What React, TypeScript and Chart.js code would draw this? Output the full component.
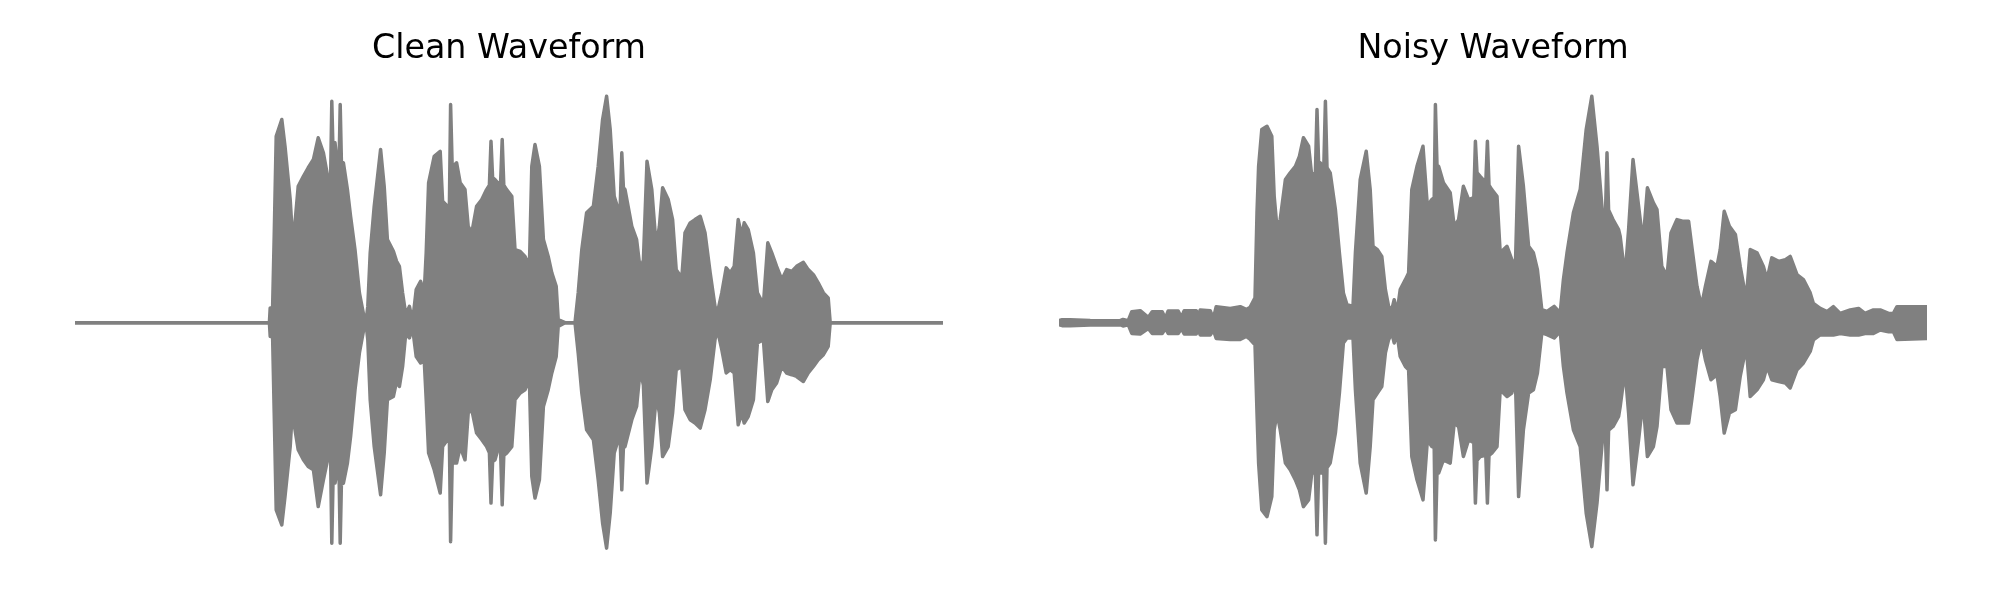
import React, { useEffect, useRef } from "react";
import { Chart, registerables } from "chart.js";

Chart.register(...registerables);

// ---- Data (time in seconds, amplitude envelope) ----
const DURATION = 2.17;
const Y_LIMIT = 0.97;
const panelTitles = ["Clean Waveform", "Noisy Waveform"];

const cleanTime = [
  0.0, 0.486, 0.488, 0.494, 0.498, 0.503, 0.517, 0.525, 0.538, 0.543, 0.55, 0.558, 0.571, 0.583, 0.596,
  0.608, 0.621, 0.633, 0.639, 0.642, 0.645, 0.65, 0.656, 0.66, 0.663, 0.666, 0.671, 0.681, 0.689, 0.7,
  0.711, 0.723, 0.728, 0.732, 0.738, 0.748, 0.764, 0.773, 0.781, 0.796, 0.804, 0.811, 0.819, 0.827, 0.836,
  0.844, 0.853, 0.864, 0.873, 0.878, 0.884, 0.898, 0.913, 0.919, 0.931, 0.936, 0.939, 0.943, 0.954, 0.963,
  0.975, 0.983, 0.992, 1.004, 1.017, 1.029, 1.036, 1.04, 1.044, 1.05, 1.057, 1.064, 1.068, 1.072, 1.079,
  1.092, 1.1, 1.113, 1.125, 1.136, 1.142, 1.15, 1.161, 1.171, 1.183, 1.192, 1.203, 1.208, 1.225, 1.25,
  1.258, 1.267, 1.279, 1.296, 1.308, 1.319, 1.329, 1.338, 1.348, 1.358, 1.363, 1.367, 1.371, 1.375, 1.392,
  1.404, 1.413, 1.421, 1.43, 1.442, 1.453, 1.461, 1.469, 1.483, 1.494, 1.503, 1.517, 1.525, 1.538, 1.55,
  1.563, 1.575, 1.588, 1.6, 1.606, 1.617, 1.628, 1.638, 1.648, 1.658, 1.667, 1.673, 1.683, 1.696, 1.706,
  1.721, 1.732, 1.742, 1.754, 1.767, 1.779, 1.792, 1.804, 1.821, 1.833, 1.846, 1.858, 1.871, 1.883, 1.888,
  2.17,
];
const cleanUpper = [
  0, 0, 0.059, 0.059, 0.345, 0.745, 0.812, 0.705, 0.492, 0.359, 0.399, 0.545, 0.585, 0.619, 0.652,
  0.739, 0.679, 0.572, 0.575, 0.885, 0.69, 0.719, 0.625, 0.62, 0.872, 0.645, 0.639, 0.532, 0.425, 0.292,
  0.119, 0.019, 0.01, 0.065, 0.279, 0.465, 0.692, 0.545, 0.332, 0.285, 0.245, 0.225, 0.119, 0.032, 0.065,
  0.005, 0.132, 0.165, 0.119, 0.279, 0.559, 0.665, 0.685, 0.485, 0.465, 0.47, 0.872, 0.62, 0.639, 0.559,
  0.532, 0.385, 0.359, 0.465, 0.492, 0.532, 0.55, 0.725, 0.58, 0.572, 0.559, 0.56, 0.732, 0.55, 0.532,
  0.505, 0.292, 0.285, 0.265, 0.225, 0.625, 0.712, 0.625, 0.332, 0.265, 0.199, 0.145, 0.012, 0, 0,
  0.119, 0.292, 0.439, 0.465, 0.625, 0.812, 0.905, 0.772, 0.505, 0.452, 0.46, 0.679, 0.54, 0.532, 0.385,
  0.332, 0.212, 0.25, 0.645, 0.532, 0.305, 0.385, 0.539, 0.492, 0.412, 0.212, 0.179, 0.359, 0.399, 0.412,
  0.425, 0.359, 0.199, 0.065, 0.039, 0.119, 0.219, 0.199, 0.225, 0.412, 0.345, 0.399, 0.372, 0.279, 0.119,
  0.072, 0.319, 0.279, 0.225, 0.172, 0.212, 0.205, 0.225, 0.241, 0.212, 0.192, 0.159, 0.119, 0.099, 0,
  0,
];
const cleanLower = [
  0, 0, -0.055, -0.055, -0.36, -0.748, -0.808, -0.695, -0.495, -0.361, -0.428, -0.508, -0.548, -0.575, -0.588,
  -0.735, -0.628, -0.535, -0.54, -0.881, -0.64, -0.641, -0.588, -0.59, -0.881, -0.645, -0.641, -0.561, -0.455, -0.268,
  -0.121, -0.017, -0.01, -0.068, -0.308, -0.495, -0.688, -0.521, -0.308, -0.295, -0.235, -0.255, -0.175, -0.041, -0.061,
  -0.02, -0.135, -0.161, -0.148, -0.308, -0.521, -0.588, -0.681, -0.495, -0.468, -0.47, -0.875, -0.56, -0.561, -0.495,
  -0.548, -0.361, -0.348, -0.441, -0.468, -0.495, -0.52, -0.721, -0.555, -0.548, -0.508, -0.515, -0.728, -0.53, -0.521,
  -0.495, -0.308, -0.281, -0.268, -0.228, -0.615, -0.701, -0.628, -0.335, -0.268, -0.201, -0.135, -0.015, 0, 0,
  -0.121, -0.281, -0.428, -0.468, -0.628, -0.801, -0.901, -0.761, -0.521, -0.468, -0.47, -0.668, -0.5, -0.495, -0.388,
  -0.335, -0.188, -0.25, -0.641, -0.495, -0.295, -0.361, -0.535, -0.495, -0.361, -0.188, -0.175, -0.348, -0.388, -0.401,
  -0.421, -0.348, -0.228, -0.068, -0.028, -0.108, -0.201, -0.188, -0.201, -0.408, -0.361, -0.401, -0.375, -0.308, -0.081,
  -0.068, -0.315, -0.268, -0.241, -0.175, -0.201, -0.208, -0.215, -0.235, -0.201, -0.175, -0.148, -0.128, -0.095, 0,
  0,
];

const noisyTime = [
  0.0, 0.008, 0.028, 0.078, 0.153, 0.16, 0.173, 0.182, 0.203, 0.223, 0.233, 0.258, 0.266, 0.273, 0.298,
  0.306, 0.313, 0.343, 0.348, 0.353, 0.378, 0.386, 0.393, 0.428, 0.453, 0.468, 0.478, 0.49, 0.495, 0.499,
  0.507, 0.52, 0.532, 0.538, 0.545, 0.553, 0.566, 0.578, 0.591, 0.601, 0.611, 0.624, 0.632, 0.641, 0.645,
  0.649, 0.653, 0.662, 0.666, 0.67, 0.678, 0.691, 0.701, 0.711, 0.72, 0.735, 0.741, 0.753, 0.768, 0.778,
  0.785, 0.796, 0.807, 0.816, 0.824, 0.832, 0.838, 0.845, 0.853, 0.866, 0.874, 0.882, 0.895, 0.91, 0.921,
  0.932, 0.938, 0.941, 0.945, 0.949, 0.961, 0.978, 0.988, 0.999, 1.011, 1.024, 1.037, 1.041, 1.045, 1.053,
  1.067, 1.071, 1.075, 1.082, 1.095, 1.103, 1.12, 1.132, 1.141, 1.149, 1.161, 1.174, 1.186, 1.196, 1.207,
  1.22, 1.238, 1.253, 1.261, 1.27, 1.286, 1.303, 1.318, 1.332, 1.345, 1.36, 1.366, 1.37, 1.374, 1.385,
  1.399, 1.403, 1.415, 1.424, 1.435, 1.449, 1.46, 1.471, 1.486, 1.495, 1.507, 1.52, 1.53, 1.545, 1.561,
  1.574, 1.582, 1.595, 1.606, 1.616, 1.63, 1.645, 1.653, 1.663, 1.676, 1.691, 1.703, 1.718, 1.728, 1.745,
  1.761, 1.77, 1.782, 1.799, 1.816, 1.828, 1.845, 1.861, 1.878, 1.886, 1.903, 1.92, 1.936, 1.953, 1.978,
  1.999, 2.015, 2.036, 2.053, 2.074, 2.086, 2.095, 2.17,
];
const noisyUpper = [
  0.008, 0.012, 0.012, 0.009, 0.008, 0.013, 0.008, 0.044, 0.048, 0.021, 0.044, 0.044, 0.017, 0.047, 0.047,
  0.021, 0.048, 0.048, 0.024, 0.051, 0.048, 0.017, 0.064, 0.057, 0.064, 0.053, 0.062, 0.099, 0.439, 0.625,
  0.772, 0.785, 0.745, 0.505, 0.379, 0.412, 0.572, 0.599, 0.625, 0.665, 0.739, 0.705, 0.585, 0.6, 0.852,
  0.64, 0.639, 0.62, 0.885, 0.62, 0.599, 0.452, 0.279, 0.119, 0.072, 0.065, 0.279, 0.572, 0.685, 0.532,
  0.305, 0.292, 0.265, 0.132, 0.065, 0.052, 0.092, 0.039, 0.132, 0.172, 0.199, 0.532, 0.625, 0.705, 0.465,
  0.492, 0.5, 0.872, 0.63, 0.625, 0.559, 0.519, 0.385, 0.412, 0.545, 0.492, 0.5, 0.725, 0.6, 0.585,
  0.56, 0.725, 0.55, 0.532, 0.505, 0.279, 0.305, 0.252, 0.225, 0.705, 0.545, 0.305, 0.279, 0.212, 0.052,
  0.045, 0.065, 0.039, 0.172, 0.279, 0.439, 0.532, 0.772, 0.905, 0.705, 0.412, 0.42, 0.679, 0.45, 0.412,
  0.372, 0.345, 0.185, 0.372, 0.652, 0.465, 0.319, 0.539, 0.479, 0.452, 0.225, 0.185, 0.359, 0.412, 0.405,
  0.405, 0.305, 0.145, 0.065, 0.145, 0.245, 0.225, 0.292, 0.445, 0.385, 0.352, 0.225, 0.092, 0.292, 0.279,
  0.225, 0.172, 0.259, 0.245, 0.252, 0.265, 0.192, 0.172, 0.119, 0.077, 0.057, 0.044, 0.064, 0.037, 0.051,
  0.057, 0.037, 0.051, 0.051, 0.037, 0.037, 0.064, 0.064,
];
const noisyLower = [
  -0.008, -0.012, -0.012, -0.009, -0.008, -0.013, -0.008, -0.043, -0.045, -0.023, -0.043, -0.043, -0.023, -0.043, -0.043,
  -0.023, -0.045, -0.045, -0.027, -0.049, -0.049, -0.029, -0.063, -0.067, -0.067, -0.055, -0.067, -0.088, -0.361, -0.561,
  -0.748, -0.775, -0.695, -0.428, -0.361, -0.428, -0.561, -0.588, -0.628, -0.668, -0.735, -0.708, -0.601, -0.6, -0.848,
  -0.6, -0.601, -0.6, -0.881, -0.58, -0.561, -0.441, -0.281, -0.081, -0.061, -0.061, -0.268, -0.561, -0.681, -0.495,
  -0.308, -0.281, -0.255, -0.121, -0.068, -0.041, -0.081, -0.041, -0.135, -0.175, -0.188, -0.535, -0.628, -0.708, -0.468,
  -0.495, -0.5, -0.868, -0.6, -0.601, -0.548, -0.561, -0.401, -0.415, -0.535, -0.468, -0.48, -0.721, -0.55, -0.535,
  -0.53, -0.721, -0.53, -0.521, -0.495, -0.268, -0.295, -0.281, -0.228, -0.695, -0.428, -0.281, -0.268, -0.201, -0.041,
  -0.048, -0.061, -0.035, -0.175, -0.281, -0.428, -0.495, -0.761, -0.895, -0.721, -0.441, -0.44, -0.668, -0.43, -0.415,
  -0.375, -0.335, -0.188, -0.361, -0.648, -0.468, -0.308, -0.535, -0.495, -0.415, -0.175, -0.175, -0.348, -0.401, -0.401,
  -0.401, -0.308, -0.148, -0.068, -0.148, -0.228, -0.208, -0.295, -0.441, -0.361, -0.348, -0.215, -0.095, -0.295, -0.268,
  -0.228, -0.175, -0.228, -0.235, -0.241, -0.261, -0.188, -0.161, -0.115, -0.069, -0.049, -0.049, -0.049, -0.043, -0.049,
  -0.049, -0.043, -0.043, -0.029, -0.036, -0.036, -0.067, -0.063,
];

const WAVE_COLOR = "#808080";

type PanelProps = {
  title: string;
  time: number[];
  upper: number[];
  lower: number[];
  left: number;
};

function WaveformPanel({ title, time, upper, lower, left }: PanelProps) {
  const ref = useRef<HTMLCanvasElement | null>(null);

  useEffect(() => {
    if (!ref.current) return;
    const lineStyle = {
      borderColor: WAVE_COLOR,
      backgroundColor: WAVE_COLOR,
      borderWidth: 3.5,
      pointRadius: 0,
      pointHoverRadius: 0,
      tension: 0,
      borderJoinStyle: "round" as const,
      borderCapStyle: "round" as const,
    };
    const chart = new Chart(ref.current, {
      type: "line",
      data: {
        datasets: [
          {
            ...lineStyle,
            data: time.map((t, i) => ({ x: t, y: upper[i] })),
            fill: "+1",
          },
          {
            ...lineStyle,
            data: time.map((t, i) => ({ x: t, y: lower[i] })),
            fill: false,
          },
        ],
      },
      options: {
        responsive: false,
        animation: false,
        devicePixelRatio: 1,
        layout: { padding: { left: 75, right: 57, top: 0, bottom: 34.6 } },
        plugins: {
          legend: { display: false },
          tooltip: { enabled: false },
          title: {
            display: true,
            text: title,
            color: "#000000",
            font: { family: "'DejaVu Sans', sans-serif", size: 33.3, weight: "normal", lineHeight: 1.2 },
            padding: { top: 29, bottom: 11 },
          },
        },
        scales: {
          x: { type: "linear", display: false, min: 0, max: DURATION },
          y: { type: "linear", display: false, min: -Y_LIMIT, max: Y_LIMIT },
        },
      },
    });
    return () => chart.destroy();
  }, [title, time, upper, lower]);

  return (
    <canvas
      ref={ref}
      width={1000}
      height={600}
      style={{ position: "absolute", left, top: 0, width: 1000, height: 600 }}
    />
  );
}

export default function App() {
  return (
    <div style={{ position: "absolute", left: 0, top: 0, width: 2000, height: 600, background: "#ffffff" }}>
      <WaveformPanel title={panelTitles[0]} time={cleanTime} upper={cleanUpper} lower={cleanLower} left={0} />
      <WaveformPanel title={panelTitles[1]} time={noisyTime} upper={noisyUpper} lower={noisyLower} left={984} />
    </div>
  );
}
